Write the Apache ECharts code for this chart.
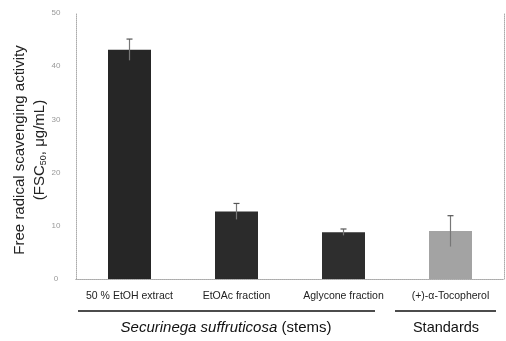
<!DOCTYPE html>
<html>
<head>
<meta charset="utf-8">
<script src="https://cdn.jsdelivr.net/npm/echarts@6/dist/echarts.min.js"></script>
<style>
html,body{margin:0;padding:0;background:#fff;}
#main{width:506px;height:341px;}
</style>
</head>
<body>
<div id="main"></div>
<script>
// 样品名称
var categories = ['50 % EtOH extract', 'EtOAc fraction', 'Aglycone fraction', '(+)-\u03b1-Tocopherol'];
// FSC50 均值 / 误差
var fscValues = [43.1, 12.7, 8.8, 9.0];
var fscErrors = [2.0, 1.5, 0.6, 2.9];
var yTicks = [0, 10, 20, 30, 40, 50];

var barColors = ['#262626', '#2b2b2b', '#2e2e2e', '#a3a3a3'];

var dom = document.getElementById('main');
var myChart = echarts.init(dom);

var errData = fscValues.map(function (v, i) {
    return [i, v - fscErrors[i], v + fscErrors[i]];
});

var option = {
    animation: false,
    grid: { left: 76, right: 2, top: 13, bottom: 62 },
    xAxis: [{
        type: 'category',
        data: categories,
        axisTick: { show: false },
        axisLine: { lineStyle: { color: '#aaa', type: 'dotted' } },
        axisLabel: { color: '#222', fontSize: 10.5, fontFamily: 'Arial', margin: 12, interval: 0 }
    }, {
        type: 'category',
        position: 'top',
        data: categories,
        axisTick: { show: false },
        axisLabel: { show: false },
        axisLine: { show: true, lineStyle: { color: '#aaa', type: 'dotted' } }
    }],
    yAxis: [{
        type: 'value',
        min: 0, max: 50, interval: 10,
        splitLine: { show: false },
        axisTick: { show: false },
        axisLine: { show: true, lineStyle: { color: '#aaa', type: 'dotted' } },
        axisLabel: { color: '#999', fontSize: 8, margin: 20, align: 'center' }
    }, {
        type: 'value',
        position: 'right',
        min: 0, max: 50, interval: 10,
        splitLine: { show: false },
        axisTick: { show: false },
        axisLabel: { show: false },
        axisLine: { show: true, lineStyle: { color: '#aaa', type: 'dotted' } }
    }],
    series: [{
        type: 'bar',
        barWidth: 43,
        data: fscValues.map(function (v, i) {
            return { value: v, itemStyle: { color: barColors[i] } };
        })
    }, {
        type: 'custom',
        data: errData,
        z: 10,
        renderItem: function (params, api) {
            var x = api.value(0);
            var lo = api.coord([x, api.value(1)]);
            var hi = api.coord([x, api.value(2)]);
            return {
                type: 'group',
                children: [{
                    type: 'line',
                    shape: { x1: hi[0], y1: hi[1], x2: lo[0], y2: lo[1] },
                    style: { stroke: '#777', lineWidth: 1.2 }
                }, {
                    type: 'line',
                    shape: { x1: hi[0] - 3, y1: hi[1], x2: hi[0] + 3, y2: hi[1] },
                    style: { stroke: '#555', lineWidth: 1.2 }
                }]
            };
        }
    }],
    graphic: [{
        type: 'text',
        x: 12, y: 150,
        rotation: Math.PI / 2,
        style: {
            text: 'Free radical scavenging activity',
            fontSize: 15, fontFamily: 'Arial', fill: '#222',
            align: 'center', verticalAlign: 'top'
        }
    }, {
        type: 'text',
        x: 32, y: 150,
        rotation: Math.PI / 2,
        style: {
            text: '(FSC{s|50}, \u03bcg/mL)',
            rich: { s: { fontSize: 9, verticalAlign: 'bottom', padding: [7, 0, 0, 0] } },
            fontSize: 15, fontFamily: 'Arial', fill: '#222',
            align: 'center', verticalAlign: 'top'
        }
    }, {
        type: 'line',
        shape: { x1: 78, y1: 311, x2: 375, y2: 311 },
        style: { stroke: '#111', lineWidth: 1.5 }
    }, {
        type: 'line',
        shape: { x1: 395, y1: 311, x2: 496, y2: 311 },
        style: { stroke: '#111', lineWidth: 1.5 }
    }, {
        type: 'text',
        x: 226, y: 328,
        style: {
            text: '{i|Securinega suffruticosa} (stems)',
            rich: { i: { fontStyle: 'italic', fontSize: 15, fontFamily: 'Arial' } },
            fontSize: 15, fontFamily: 'Arial', fill: '#111',
            align: 'center', verticalAlign: 'middle'
        }
    }, {
        type: 'text',
        x: 446, y: 328,
        style: {
            text: 'Standards',
            fontSize: 14.5, fontFamily: 'Arial', fill: '#111',
            align: 'center', verticalAlign: 'middle'
        }
    }]
};

myChart.setOption(option);
</script>
</body>
</html>
